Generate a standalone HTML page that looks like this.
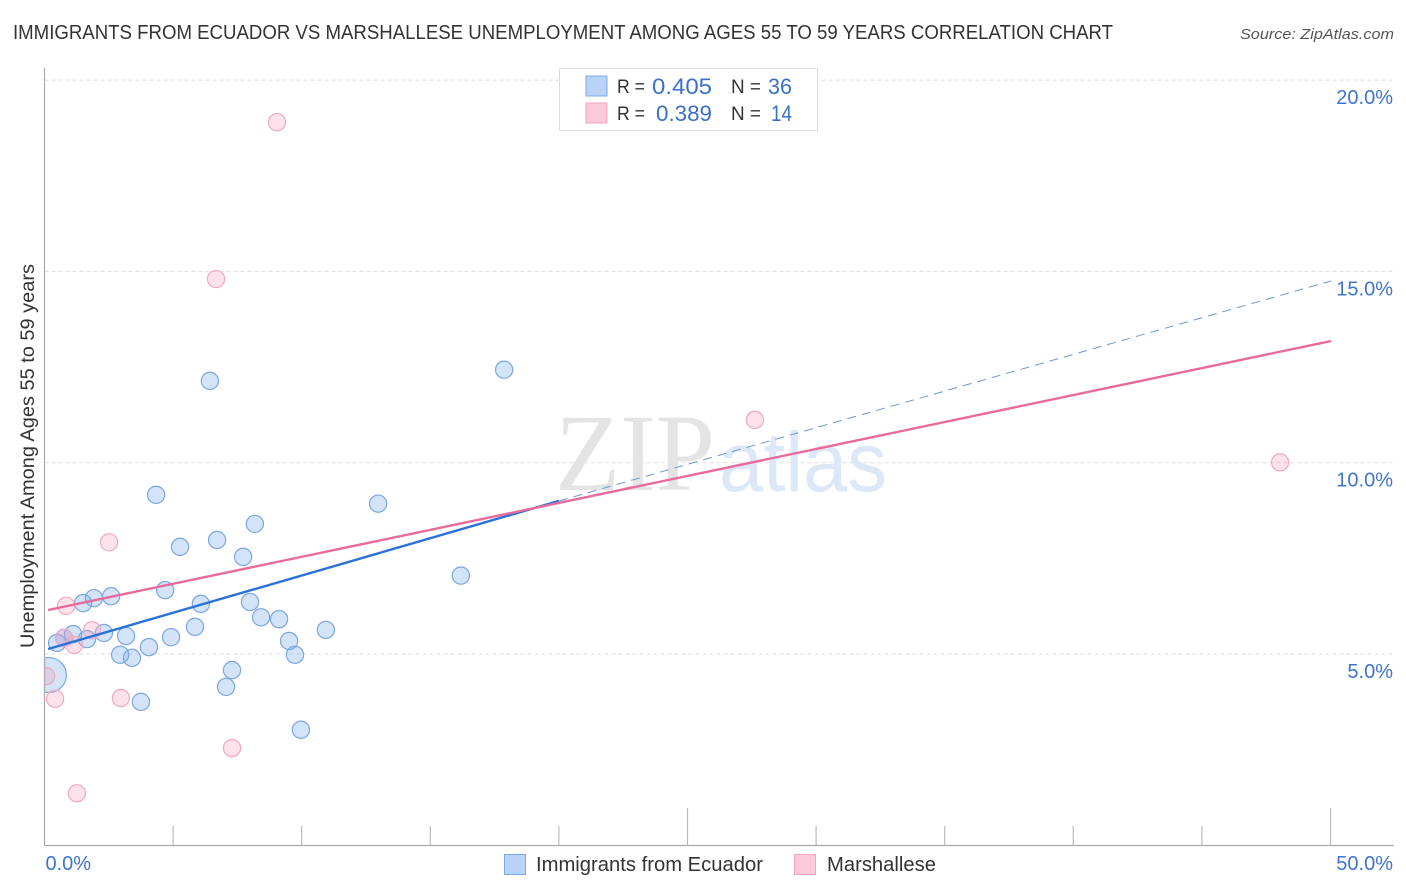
<!DOCTYPE html>
<html lang="en">
<head>
<meta charset="utf-8">
<title>Immigrants from Ecuador vs Marshallese Unemployment Correlation Chart</title>
<style>
html,body{margin:0;padding:0;background:#fff;width:1406px;height:892px;overflow:hidden}
svg{display:block}
text{font-family:"Liberation Sans",sans-serif}
</style>
</head>
<body>
<svg id="chart" xmlns="http://www.w3.org/2000/svg" width="1406" height="892" viewBox="0 0 1406 892">
  <rect x="0" y="0" width="1406" height="892" fill="#fff"/>
  <text x="13" y="39" font-size="20" fill="#333" textLength="1100" lengthAdjust="spacingAndGlyphs">IMMIGRANTS FROM ECUADOR VS MARSHALLESE UNEMPLOYMENT AMONG AGES 55 TO 59 YEARS CORRELATION CHART</text>
  <text x="1394" y="39" font-size="15" font-style="italic" fill="#555" text-anchor="end" textLength="154" lengthAdjust="spacingAndGlyphs">Source: ZipAtlas.com</text>
  <g id="grid"></g>
  <g>
    <text x="555" y="490" font-size="110" fill="#e4e4e4" textLength="160" lengthAdjust="spacingAndGlyphs" style="font-family:'Liberation Serif',serif">ZIP</text>
    <text x="719" y="491" font-size="84" fill="#dce8f8" textLength="168" lengthAdjust="spacingAndGlyphs" style="font-family:'Liberation Sans',sans-serif">atlas</text>
  </g>
  <defs>
    <clipPath id="plot-clip"><rect x="44.5" y="60" width="1350" height="785"/></clipPath>
  </defs>
  <g id="points" clip-path="url(#plot-clip)"></g>
  <g id="lines"></g>
  <g id="axes"></g>
  <text x="0" y="0" transform="translate(34,456) rotate(-90)" font-size="19" fill="#333" text-anchor="middle" textLength="384" lengthAdjust="spacingAndGlyphs">Unemployment Among Ages 55 to 59 years</text>

  <g>
    <rect x="559.5" y="68.5" width="258" height="62" fill="#fff" stroke="#ddd" stroke-width="1"/>
    <rect x="586" y="76" width="21" height="20" fill="#b9d3f8" stroke="#7ba9e6" stroke-width="1"/>
    <rect x="586" y="103" width="21" height="20" fill="#fbc9da" stroke="#f2a5bd" stroke-width="1"/>
    <text x="617" y="93" font-size="19" fill="#333" textLength="28" lengthAdjust="spacingAndGlyphs">R =</text>
    <text x="712" y="94" font-size="22" fill="#3a70cc" text-anchor="end" textLength="60" lengthAdjust="spacingAndGlyphs">0.405</text>
    <text x="731" y="93" font-size="19" fill="#333" textLength="30" lengthAdjust="spacingAndGlyphs">N =</text>
    <text x="792" y="94" font-size="22" fill="#3a70cc" text-anchor="end" textLength="24" lengthAdjust="spacingAndGlyphs">36</text>
    <text x="617" y="120" font-size="19" fill="#333" textLength="28" lengthAdjust="spacingAndGlyphs">R =</text>
    <text x="712" y="121" font-size="22" fill="#3a70cc" text-anchor="end" textLength="56" lengthAdjust="spacingAndGlyphs">0.389</text>
    <text x="731" y="120" font-size="19" fill="#333" textLength="30" lengthAdjust="spacingAndGlyphs">N =</text>
    <text x="792" y="121" font-size="22" fill="#3a70cc" text-anchor="end" textLength="21" lengthAdjust="spacingAndGlyphs">14</text>
  </g>

  <g>
    <rect x="504.5" y="854.5" width="21" height="20" fill="#b9d3f8" stroke="#7ba9e6" stroke-width="1"/>
    <text x="536" y="871" font-size="20" fill="#333" textLength="227" lengthAdjust="spacingAndGlyphs">Immigrants from Ecuador</text>
    <rect x="794.5" y="854.5" width="21" height="20" fill="#fbc9da" stroke="#f2a5bd" stroke-width="1"/>
    <text x="827" y="871" font-size="20" fill="#333" textLength="109" lengthAdjust="spacingAndGlyphs">Marshallese</text>
  </g>
</svg>
<script>
const yTickValues = [5, 10, 15, 20];
const yTickLabels = ['5.0%', '10.0%', '15.0%', '20.0%'];
const xTickValues = [5, 10, 15, 20, 25, 30, 35, 40, 45, 50];
const xMajorTicks = [25, 50];
const xEdgeValues = [0, 50];
const xEdgeLabels = ['0.0%', '50.0%'];

const ecuadorX = [0.17,0.49,0.76,1.11,1.65,1.50,1.92,2.59,2.31,2.94,3.17,3.40,4.06,3.75,4.92,4.69,4.34,5.27,5.85,6.08,6.43,6.71,7.06,7.29,7.72,7.99,8.18,8.42,9.12,9.51,9.74,9.97,10.94,12.97,16.19,17.87];
const ecuadorY = [4.45,5.29,5.42,5.52,5.39,6.33,6.46,6.51,5.55,4.98,5.47,4.90,5.18,3.75,5.44,6.67,9.16,7.80,5.71,6.31,12.14,7.98,4.14,4.58,7.54,6.36,8.40,5.96,5.91,5.34,4.98,3.02,5.63,8.93,7.05,12.43];
const ecuadorSize = [2,1,1,1,1,1,1,1,1,1,1,1,1,1,1,1,1,1,1,1,1,1,1,1,1,1,1,1,1,1,1,1,1,1,1,1];

const marshalleseX = [0.06,0.41,0.84,0.76,1.15,1.85,1.26,2.51,2.97,7.29,6.67,9.04,27.62,48.04];
const marshalleseY = [4.42,3.83,6.26,5.42,5.24,5.62,1.36,7.92,3.85,2.54,14.80,18.90,11.12,10.01];

const ecuadorTrendX = [0.14, 20.0];
const ecuadorTrendY = [5.13, 9.0];
const ecuadorProjectionX = [20.0, 50.02];
const ecuadorProjectionY = [9.0, 14.75];
const marshalleseTrendX = [0.14, 50.02];
const marshalleseTrendY = [6.15, 13.18];

const NS = 'http://www.w3.org/2000/svg';
const scaleX = v => 44.5 + v * 25.72;
const scaleY = v => 845.3 - v * 38.26;

function make(tag, parent, attrs) {
  const el = document.createElementNS(NS, tag);
  for (const k in attrs) el.setAttribute(k, attrs[k]);
  document.getElementById(parent).appendChild(el);
  return el;
}

yTickValues.forEach((v, i) => {
  const line = make('line', 'grid', {x1: 44.5, x2: 1394, y1: scaleY(v), y2: scaleY(v), stroke: '#dedede', 'stroke-width': 1, 'stroke-dasharray': '4 3'});
  
  
  const label = make('text', 'axes', {x: 1393, y: scaleY(v) + 24, 'font-size': 20, fill: '#3f75d0', 'text-anchor': 'end'});
  
  
  label.textContent = yTickLabels[i];
});

ecuadorX.forEach((x, i) => {
  const c = make('circle', 'points', {cx: scaleX(x), cy: scaleY(ecuadorY[i]), r: ecuadorSize[i] === 2 ? 17.5 : 8.6, fill: 'rgba(110,165,235,0.3)', stroke: '#7ba6e3', 'stroke-width': 1.2});
  
  
});

marshalleseX.forEach((x, i) => {
  const c = make('circle', 'points', {cx: scaleX(x), cy: scaleY(marshalleseY[i]), r: 8.6, fill: 'rgba(248,160,190,0.3)', stroke: '#f0a9bf', 'stroke-width': 1.2});
  
  
});

const projection = make('line', 'lines', {x1: scaleX(ecuadorProjectionX[0]), y1: scaleY(ecuadorProjectionY[0]), x2: scaleX(ecuadorProjectionX[1]), y2: scaleY(ecuadorProjectionY[1]), stroke: '#6f97d6', 'stroke-width': 1, 'stroke-dasharray': '9 6'});



const blueTrend = make('line', 'lines', {x1: scaleX(ecuadorTrendX[0]), y1: scaleY(ecuadorTrendY[0]), x2: scaleX(ecuadorTrendX[1]), y2: scaleY(ecuadorTrendY[1]), stroke: '#2a72d8', 'stroke-width': 2.4});



const pinkTrend = make('line', 'lines', {x1: scaleX(marshalleseTrendX[0]), y1: scaleY(marshalleseTrendY[0]), x2: scaleX(marshalleseTrendX[1]), y2: scaleY(marshalleseTrendY[1]), stroke: '#e96b9b', 'stroke-width': 2.4});



const yAxis = make('line', 'axes', {x1: 44.5, x2: 44.5, y1: 68, y2: 845.5, stroke: '#aaa', 'stroke-width': 1.2});



const xAxis = make('line', 'axes', {x1: 44, x2: 1394, y1: 845.5, y2: 845.5, stroke: '#aaa', 'stroke-width': 1.2});



xTickValues.forEach(v => {
  const top = xMajorTicks.includes(v) ? 808 : 826;
  const tick = make('line', 'axes', {x1: scaleX(v), x2: scaleX(v), y1: top, y2: 845, stroke: '#bbb', 'stroke-width': 1.2});
  
  
});

xEdgeValues.forEach((v, i) => {
  const atEnd = i === xEdgeValues.length - 1;
  const label = make('text', 'axes', {x: atEnd ? 1393 : scaleX(v) + 1, y: 870, 'font-size': 20, fill: '#3f75d0', 'text-anchor': atEnd ? 'end' : 'start'});
  
  
  label.textContent = xEdgeLabels[i];
});
</script>
</body>
</html>
